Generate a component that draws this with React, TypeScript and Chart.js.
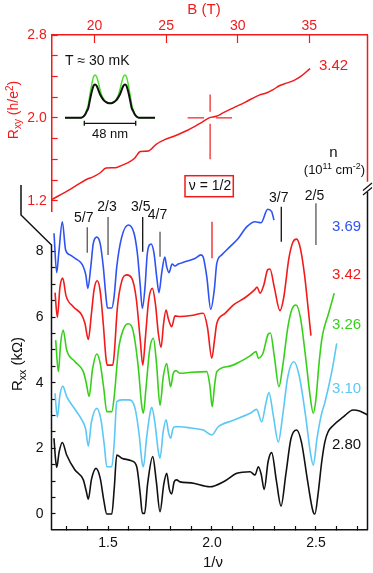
import React, { useEffect, useRef } from 'react';
import { Chart, registerables } from 'chart.js';

Chart.register(...registerables);

const FONT = "'Liberation Sans', Arial, sans-serif";
Chart.defaults.font.family = FONT;

const RED = '#f21a1a';
const BLUE = '#2f52f2';
const GREEN = '#38cf1c';
const CYAN = '#5cc8f5';
const BLACK = '#111111';

// ---------- top panel: Rxy vs B ----------
const bTicks = [20, 25, 30, 35];
const rxyTicks = [1.2, 1.4, 1.6, 1.8, 2.0, 2.2, 2.4, 2.6, 2.8];
const rxyLabels = [1.2, 2.0, 2.8];
const rxyB = [17.0, 18.3, 19.5, 19.9, 20.4, 20.8, 21.45, 21.8, 22.3, 22.8, 23.2, 23.75, 24.3, 24.9, 25.5, 26.5, 27.4, 28.0, 28.5, 29.0, 29.7, 30.5, 31.5, 32.0, 32.5, 32.9, 33.4, 33.9, 34.4, 35.05];
const rxyR = [1.21, 1.31, 1.41, 1.43, 1.47, 1.515, 1.518, 1.535, 1.565, 1.61, 1.675, 1.68, 1.745, 1.79, 1.82, 1.88, 1.95, 2.0, 2.015, 2.05, 2.097, 2.15, 2.22, 2.24, 2.275, 2.31, 2.335, 2.36, 2.4, 2.476];
const crossB = 28.07;
const crossR = 2.0;
const crossBSpan = [26.5, 29.6];
const crossRSpan = [1.6, 2.225];

// ---------- inset: charge distribution ----------
const insetZ = [-18, -3, -1, 1, 2.5, 3.7, 5, 6.9, 8.5, 10, 11.5, 13, 14.5, 16.2, 18, 20, 22, 24, 26, 28, 30, 31.8, 33.5, 35, 36.5, 38, 39.5, 41.1, 43, 44.3, 45.5, 47, 49, 51, 66];
const insetHigh = [0, 0, 0.02, 0.1, 0.2, 0.3, 0.5, 0.77, 0.95, 1.0, 0.96, 0.84, 0.68, 0.53, 0.44, 0.38, 0.35, 0.34, 0.35, 0.38, 0.44, 0.53, 0.68, 0.84, 0.96, 1.0, 0.95, 0.77, 0.5, 0.3, 0.2, 0.1, 0.02, 0, 0];
const insetLow = [0, 0, 0.02, 0.08, 0.16, 0.22, 0.38, 0.6, 0.74, 0.78, 0.75, 0.66, 0.56, 0.48, 0.41, 0.37, 0.345, 0.34, 0.345, 0.37, 0.41, 0.48, 0.56, 0.66, 0.75, 0.78, 0.74, 0.6, 0.38, 0.22, 0.16, 0.08, 0.02, 0, 0];
const wellWidth = 48;

// ---------- bottom panel: Rxx vs 1/nu ----------
const invNuTicks = [1.3, 1.4, 1.5, 1.6, 1.7, 1.8, 1.9, 2.0, 2.1, 2.2, 2.3, 2.4, 2.5, 2.6, 2.7];
const invNuLabels = [1.5, 2.0, 2.5];
const rxxTicks = [0, 0.5, 1, 1.5, 2, 2.5, 3, 3.5, 4, 4.5, 5, 5.5, 6, 6.5, 7, 7.5, 8];
const rxxLabels = [0, 2, 4, 6, 8];
const densities = ['3.69', '3.42', '3.26', '3.10', '2.80'];
const fractionPos = [7 / 5, 3 / 2, 5 / 3, 7 / 4, 7 / 3, 5 / 2];
const fractionText = ['5/7', '2/3', '3/5', '4/7', '3/7', '2/5'];

const rxx369: [number, number][] = [[1.240,8.56],[1.253,7.36],[1.263,7.95],[1.280,8.91],[1.296,8.05],[1.317,7.90],[1.345,7.78],[1.365,7.69],[1.381,7.54],[1.393,7.29],[1.403,6.88],[1.417,7.54],[1.429,8.25],[1.446,8.44],[1.462,8.25],[1.477,7.54],[1.490,6.62],[1.497,6.28],[1.518,6.28],[1.529,6.62],[1.542,7.54],[1.566,8.45],[1.598,8.81],[1.625,8.56],[1.641,7.95],[1.654,7.03],[1.665,6.27],[1.678,6.93],[1.689,7.95],[1.707,8.23],[1.721,7.95],[1.734,7.23],[1.745,6.75],[1.758,7.34],[1.773,7.83],[1.782,7.54],[1.793,7.36],[1.808,7.62],[1.822,7.56],[1.838,7.62],[1.870,7.69],[1.918,7.79],[1.947,7.90],[1.958,7.83],[1.975,7.23],[1.994,6.24],[2.011,6.83],[2.023,7.64],[2.047,7.90],[2.087,8.15],[2.127,8.41],[2.168,8.76],[2.207,8.91],[2.236,8.88],[2.268,9.29],[2.287,9.22],[2.298,8.96]];
const rxx342: [number, number][] = [[1.245,6.75],[1.256,6.00],[1.269,6.93],[1.282,7.19],[1.298,6.65],[1.333,6.32],[1.373,6.07],[1.389,5.81],[1.405,5.32],[1.420,6.10],[1.433,6.85],[1.448,7.11],[1.462,6.80],[1.477,5.80],[1.490,4.75],[1.496,4.54],[1.523,4.54],[1.530,4.90],[1.545,6.30],[1.566,7.10],[1.590,7.29],[1.614,7.19],[1.635,6.60],[1.655,5.30],[1.667,4.54],[1.680,5.40],[1.695,6.50],[1.713,6.88],[1.728,6.40],[1.742,5.50],[1.755,5.08],[1.767,5.80],[1.779,6.22],[1.790,5.95],[1.806,5.71],[1.822,6.04],[1.846,6.02],[1.900,6.05],[1.958,6.12],[1.978,5.70],[1.999,4.75],[2.012,5.30],[2.023,5.81],[2.060,6.10],[2.102,6.37],[2.160,6.60],[2.207,6.85],[2.217,6.92],[2.231,6.73],[2.250,7.00],[2.268,7.45],[2.279,7.47],[2.300,6.90],[2.327,6.20],[2.345,6.60],[2.370,7.80],[2.390,8.30],[2.407,8.38],[2.425,8.10],[2.445,7.30],[2.462,6.30],[2.476,5.44]];
const rxx326: [number, number][] = [[1.248,5.30],[1.261,4.34],[1.272,5.20],[1.284,5.61],[1.301,5.00],[1.340,4.65],[1.381,4.34],[1.395,4.00],[1.409,3.58],[1.425,4.40],[1.446,4.88],[1.462,4.60],[1.480,3.80],[1.494,3.12],[1.518,3.12],[1.530,3.60],[1.550,5.00],[1.575,5.65],[1.598,5.80],[1.620,5.60],[1.645,4.50],[1.662,3.30],[1.670,3.07],[1.682,3.80],[1.700,5.00],[1.718,5.36],[1.733,4.60],[1.750,3.32],[1.766,4.20],[1.782,4.59],[1.792,4.20],[1.801,3.88],[1.814,4.30],[1.827,4.37],[1.846,4.29],[1.900,4.32],[1.975,4.34],[1.990,3.90],[2.001,3.27],[2.012,3.90],[2.023,4.34],[2.080,4.50],[2.140,4.66],[2.183,4.82],[2.212,4.95],[2.223,4.75],[2.245,4.90],[2.270,5.48],[2.281,5.52],[2.300,4.80],[2.322,3.88],[2.340,4.50],[2.365,5.70],[2.385,6.25],[2.404,6.37],[2.425,6.00],[2.450,4.80],[2.472,3.60],[2.487,3.07],[2.500,3.50],[2.515,4.60],[2.530,5.40],[2.560,6.10],[2.588,6.73]];
const rxx310: [number, number][] = [[1.245,3.68],[1.256,2.95],[1.268,3.60],[1.282,3.90],[1.301,3.58],[1.340,3.20],[1.374,2.87],[1.392,2.60],[1.405,2.07],[1.420,2.80],[1.446,3.22],[1.465,2.90],[1.482,2.10],[1.494,1.44],[1.518,1.44],[1.530,2.20],[1.542,3.42],[1.566,3.48],[1.598,3.48],[1.630,3.22],[1.650,2.40],[1.663,1.60],[1.670,1.44],[1.685,2.30],[1.700,3.00],[1.710,3.25],[1.725,2.80],[1.742,1.90],[1.750,1.70],[1.765,2.50],[1.779,2.87],[1.792,2.45],[1.801,2.31],[1.812,2.60],[1.822,2.66],[1.846,2.66],[1.900,2.62],[1.958,2.56],[1.999,2.41],[2.030,2.66],[2.100,2.85],[2.183,3.07],[2.215,3.19],[2.239,2.81],[2.260,3.40],[2.274,3.70],[2.295,3.00],[2.319,2.20],[2.340,3.00],[2.365,4.20],[2.394,4.64],[2.420,4.20],[2.450,3.00],[2.475,1.80],[2.487,1.49],[2.505,2.30],[2.525,3.00],[2.543,3.40],[2.575,4.30],[2.600,5.20]];
const rxx280: [number, number][] = [[1.240,2.31],[1.247,1.70],[1.253,1.42],[1.265,1.90],[1.280,2.18],[1.301,1.80],[1.340,1.35],[1.381,1.04],[1.395,0.70],[1.405,0.45],[1.420,1.05],[1.442,1.39],[1.462,1.10],[1.480,0.40],[1.494,0.00],[1.518,0.00],[1.530,0.80],[1.542,1.80],[1.566,1.70],[1.614,1.62],[1.638,1.44],[1.655,0.60],[1.665,0.02],[1.676,0.02],[1.690,0.90],[1.715,1.75],[1.732,1.00],[1.750,0.07],[1.768,0.90],[1.782,1.24],[1.795,0.75],[1.806,0.61],[1.818,0.98],[1.830,1.04],[1.846,0.98],[1.900,0.95],[1.990,0.83],[2.060,1.00],[2.119,1.24],[2.183,1.29],[2.207,1.19],[2.223,1.44],[2.237,1.20],[2.251,0.75],[2.270,1.60],[2.287,1.87],[2.310,1.00],[2.332,0.24],[2.355,1.20],[2.380,2.30],[2.407,2.56],[2.430,2.20],[2.460,1.00],[2.485,0.10],[2.495,0.00],[2.510,0.60],[2.528,1.60],[2.543,2.20],[2.558,2.50],[2.583,2.70],[2.630,2.95],[2.679,3.17],[2.710,3.14],[2.748,3.02]];

const curveSeries = [rxx369, rxx342, rxx326, rxx310, rxx280];
const curveColors = [BLUE, RED, GREEN, CYAN, BLACK];

// ---------- drawing helpers ----------
type Part = [string, number, number];
function drawRich(ctx: CanvasRenderingContext2D, parts: Part[], x: number, y: number, color: string, rotate = false) {
  ctx.save();
  ctx.translate(x, y);
  if (rotate) ctx.rotate(-Math.PI / 2);
  ctx.fillStyle = color;
  ctx.textBaseline = 'alphabetic';
  ctx.textAlign = 'left';
  let total = 0;
  for (const [t, s] of parts) { ctx.font = `${s}px ${FONT}`; total += ctx.measureText(t).width; }
  let cx = -total / 2;
  for (const [t, s, dy] of parts) {
    ctx.font = `${s}px ${FONT}`;
    ctx.fillText(t, cx, dy);
    cx += ctx.measureText(t).width;
  }
  ctx.restore();
}
function text(ctx: CanvasRenderingContext2D, t: string, x: number, y: number, size: number, color: string, align: CanvasTextAlign = 'center') {
  ctx.font = `${size}px ${FONT}`;
  ctx.fillStyle = color;
  ctx.textAlign = align;
  ctx.textBaseline = 'middle';
  ctx.fillText(t, x, y);
}
function seg(ctx: CanvasRenderingContext2D, x1: number, y1: number, x2: number, y2: number) {
  ctx.beginPath(); ctx.moveTo(x1, y1); ctx.lineTo(x2, y2); ctx.stroke();
}
const near = (arr: number[], v: number) => arr.some((a) => Math.abs(a - v) < 1e-6);

const topDecor = {
  id: 'topDecor',
  afterDraw(chart: any) {
    const { ctx, chartArea: a, scales } = chart;
    const x = scales.x, y = scales.y;
    ctx.save();
    ctx.strokeStyle = RED;
    ctx.lineWidth = 1.5;
    seg(ctx, a.right, a.top, a.right, 181.7);
    // nu = 1/2 cross
    const cx = x.getPixelForValue(crossB), cy = y.getPixelForValue(crossR);
    ctx.lineWidth = 1.2;
    seg(ctx, x.getPixelForValue(crossBSpan[0]), cy, cx - 6, cy);
    seg(ctx, cx + 6, cy, x.getPixelForValue(crossBSpan[1]), cy);
    seg(ctx, cx, y.getPixelForValue(crossRSpan[1]), cx, cy - 6);
    seg(ctx, cx, cy + 6, cx, y.getPixelForValue(crossRSpan[0]));
    // titles and notes
    text(ctx, 'B (T)', 204, 9.5, 15, RED);
    drawRich(ctx, [['R', 14, 0], ['xy', 10, 3], [' (h/e', 14, 0], ['2', 10, -5], [')', 14, 0]], 18, 110, RED, true);
    text(ctx, 'T \u2248 30 mK', 65, 61.5, 14, BLACK, 'left');
    text(ctx, '3.42', 319, 66, 15, RED, 'left');
    ctx.restore();
  },
};

const bottomDecor = {
  id: 'bottomDecor',
  afterDraw(chart: any) {
    const { ctx, chartArea: a, scales } = chart;
    const x = scales.x;
    ctx.save();
    ctx.strokeStyle = BLACK;
    ctx.lineWidth = 1.5;
    ctx.beginPath();
    ctx.moveTo(21, 185); ctx.lineTo(21, 215); ctx.lineTo(a.left, 245); ctx.lineTo(a.left, a.bottom);
    ctx.stroke();
    seg(ctx, a.right, 192, a.right, a.bottom);
    ctx.lineWidth = 1.2;
    seg(ctx, a.right - 4.5, 190.5, a.right + 4.5, 183);
    seg(ctx, a.right - 4.5, 195, a.right + 4.5, 187.5);
    // fraction markers
    const fStyle = [
      { dx: -3.5, ty: 218, y1: 227.3, y2: 252.7, c: '#555' },
      { dx: -1, ty: 206.7, y1: 217, y2: 255, c: '#555' },
      { dx: -2, ty: 206.7, y1: 217, y2: 251.7, c: BLACK },
      { dx: -2.5, ty: 215, y1: 231.7, y2: 256.7, c: '#555' },
      { dx: -2.5, ty: 198.3, y1: 206.7, y2: 241.7, c: BLACK },
      { dx: -1.5, ty: 196, y1: 203.3, y2: 245, c: '#555' },
    ];
    fractionPos.forEach((v, i) => {
      const px = x.getPixelForValue(v);
      const s = fStyle[i];
      ctx.strokeStyle = s.c;
      ctx.lineWidth = 1.3;
      seg(ctx, px, s.y1, px, s.y2);
      text(ctx, fractionText[i], px + s.dx, s.ty, 14, BLACK);
    });
    // nu = 1/2 marker
    ctx.strokeStyle = RED;
    ctx.lineWidth = 1.3;
    const hx = x.getPixelForValue(2.0);
    seg(ctx, hx, 221.7, hx, 258.3);
    ctx.lineWidth = 1.5;
    ctx.strokeRect(185, 175.7, 48.3, 21);
    text(ctx, '\u03bd = 1/2', 210, 186.5, 14, BLACK);
    // densities
    const dy = [226.7, 275, 325, 389, 445];
    densities.forEach((d, i) => text(ctx, d, 332, dy[i], 15, curveColors[i], 'left'));
    text(ctx, 'n', 333.5, 152.5, 15, BLACK);
    drawRich(ctx, [['(10', 13, 0], ['11', 9, -5], [' cm', 13, 0], ['-2', 9, -5], [')', 13, 0]], 334.5, 174, BLACK);
    // axis titles
    drawRich(ctx, [['R', 15, 0], ['xx', 10.5, 3.5], [' (k\u03a9)', 15, 0]], 22, 364, BLACK, true);
    text(ctx, '1/\u03bd', 213, 562.5, 15, BLACK);
    ctx.restore();
  },
};

const insetDecor = {
  id: 'insetDecor',
  afterDraw(chart: any) {
    const { ctx, chartArea: a, scales } = chart;
    const x1 = scales.x.getPixelForValue(0), x2 = scales.x.getPixelForValue(wellWidth);
    const yb = a.bottom + 3.3;
    ctx.save();
    ctx.strokeStyle = BLACK;
    ctx.lineWidth = 1.3;
    seg(ctx, x1, yb, x2, yb);
    seg(ctx, x1, yb - 2.5, x1, yb + 2.5);
    seg(ctx, x2, yb - 2.5, x2, yb + 2.5);
    text(ctx, `${wellWidth} nm`, (x1 + x2) / 2, a.bottom + 14.3, 13, BLACK);
    ctx.restore();
  },
};

const pairs = (arr: [number, number][]) => arr.map(([x, y]) => ({ x, y }));

export default function App() {
  const topRef = useRef<HTMLCanvasElement>(null);
  const botRef = useRef<HTMLCanvasElement>(null);
  const insetRef = useRef<HTMLCanvasElement>(null);

  useEffect(() => {
    const charts: Chart[] = [];
    charts.push(new Chart(topRef.current!, {
      type: 'line',
      data: {
        datasets: [{
          data: rxyB.map((b, i) => ({ x: b, y: rxyR[i] })),
          borderColor: RED, borderWidth: 1.5, pointRadius: 0, fill: false,
          cubicInterpolationMode: 'monotone',
        }],
      },
      options: {
        responsive: false, animation: false, events: [],
        layout: { padding: { left: 0, top: 0, right: 5.5, bottom: 361.3 } },
        plugins: { legend: { display: false }, tooltip: { enabled: false } },
        scales: {
          x: {
            type: 'linear', position: 'top', min: 17.01, max: 39.06,
            afterBuildTicks: (s: any) => { s.ticks = bTicks.map((v) => ({ value: v })); },
            afterFit: (s: any) => { s.height = 35; },
            ticks: { color: RED, font: { size: 14 }, padding: 8.9, autoSkip: false, maxRotation: 0, callback: (v: any) => String(v) },
            grid: { drawOnChartArea: false, tickLength: -8, color: RED, tickWidth: 1.2 },
            border: { display: true, color: RED, width: 1.5 },
          },
          y: {
            type: 'linear', position: 'left', min: 1.094, max: 2.8,
            afterBuildTicks: (s: any) => { s.ticks = rxyTicks.map((v) => ({ value: v })); },
            afterFit: (s: any) => { s.width = 51.7; },
            ticks: { color: RED, font: { size: 14 }, padding: 11, autoSkip: false, callback: (v: any) => (near(rxyLabels, v) ? Number(v).toFixed(1) : '') },
            grid: { drawOnChartArea: false, tickLength: -6, color: RED, tickWidth: 1.2 },
            border: { display: true, color: RED, width: 1.5 },
          },
        },
      } as any,
      plugins: [topDecor],
    }));

    charts.push(new Chart(botRef.current!, {
      type: 'line',
      data: {
        datasets: curveSeries.map((s, i) => ({
          label: densities[i],
          data: pairs(s),
          borderColor: curveColors[i], borderWidth: 1.6, pointRadius: 0, fill: false,
          cubicInterpolationMode: 'monotone',
        })),
      },
      options: {
        responsive: false, animation: false, events: [],
        layout: { padding: { left: 0, top: 190, right: 5.5, bottom: 0 } },
        plugins: { legend: { display: false }, tooltip: { enabled: false } },
        scales: {
          x: {
            type: 'linear', position: 'bottom', min: 1.228, max: 2.748,
            afterBuildTicks: (s: any) => { s.ticks = invNuTicks.map((v) => ({ value: v })); },
            afterFit: (s: any) => { s.height = 43; },
            ticks: { color: BLACK, font: { size: 14 }, padding: 9, autoSkip: false, maxRotation: 0, callback: (v: any) => (near(invNuLabels, v) ? Number(v).toFixed(1) : '') },
            grid: { drawOnChartArea: false, tickLength: -4, color: BLACK, tickWidth: 1.2 },
            border: { display: true, color: BLACK, width: 1.5 },
          },
          y: {
            type: 'linear', position: 'left', min: -0.488, max: 9.878,
            afterBuildTicks: (s: any) => { s.ticks = rxxTicks.map((v) => ({ value: v })); },
            afterFit: (s: any) => { s.width = 51.5; },
            ticks: { color: BLACK, font: { size: 14 }, padding: 12, autoSkip: false, callback: (v: any) => (near(rxxLabels, v) ? String(v) : '') },
            grid: { drawOnChartArea: false, tickLength: -4, color: BLACK, tickWidth: 1.2 },
            border: { display: false },
          },
        },
      } as any,
      plugins: [bottomDecor],
    }));

    charts.push(new Chart(insetRef.current!, {
      type: 'line',
      data: {
        datasets: [
          { data: insetZ.map((z, i) => ({ x: z, y: insetLow[i] })), borderColor: BLACK, borderWidth: 2, pointRadius: 0, fill: false, cubicInterpolationMode: 'monotone' },
          { data: insetZ.map((z, i) => ({ x: z, y: insetHigh[i] })), borderColor: '#4fdc2e', borderWidth: 1.5, pointRadius: 0, fill: false, cubicInterpolationMode: 'monotone' },
        ],
      },
      options: {
        responsive: false, animation: false, events: [],
        layout: { padding: { left: 5, top: 4, right: 5, bottom: 22 } },
        plugins: { legend: { display: false }, tooltip: { enabled: false } },
        scales: {
          x: { type: 'linear', display: false, min: -18, max: 66 },
          y: { type: 'linear', display: false, min: -0.054, max: 1.117 },
        },
      } as any,
      plugins: [insetDecor],
    }));

    return () => charts.forEach((c) => c.destroy());
  }, []);

  return (
    <div style={{ position: 'fixed', left: 0, top: 0, width: 373, height: 573, background: '#fff', overflow: 'hidden' }}>
      <canvas ref={topRef} width={373} height={573} style={{ position: 'absolute', left: 0, top: 0 }} />
      <canvas ref={botRef} width={373} height={573} style={{ position: 'absolute', left: 0, top: 0 }} />
      <canvas ref={insetRef} width={100} height={76} style={{ position: 'absolute', left: 60, top: 66 }} />
    </div>
  );
}
